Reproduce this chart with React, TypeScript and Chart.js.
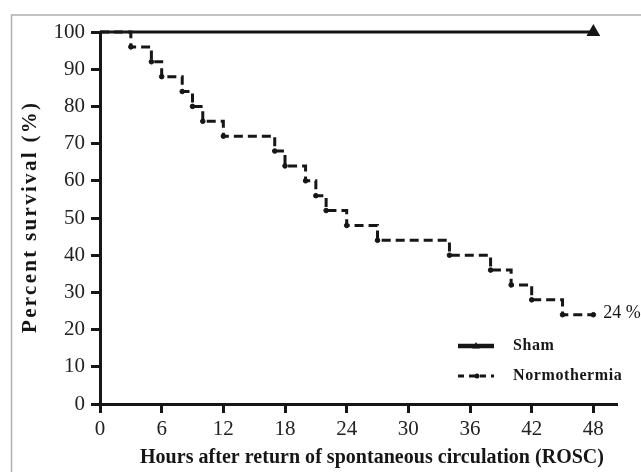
import { useEffect, useRef } from 'react';
import { Chart, registerables } from 'chart.js';

Chart.register(...registerables);

const FONT = "'Liberation Serif', 'Times New Roman', Times, serif";
const INK = '#161616';

// ---- data ----
const shamHours = [0, 48];
const shamSurvival = [100, 100];
const normHours = [0, 3, 5, 6, 8, 9, 10, 12, 17, 18, 20, 21, 22, 24, 27, 34, 38, 40, 42, 45, 48];
const normSurvival = [100, 96, 92, 88, 84, 80, 76, 72, 68, 64, 60, 56, 52, 48, 44, 40, 36, 32, 28, 24, 24];
const xTicks = [0, 6, 12, 18, 24, 30, 36, 42, 48];
const yTicks = [0, 10, 20, 30, 40, 50, 60, 70, 80, 90, 100];
const xTitle = 'Hours after return of spontaneous circulation (ROSC)';
const yTitle = 'Percent survival (%)';
const endLabel = '24 %';
const seriesNames = ['Sham', 'Normothermia'];

function spacedText(ctx: CanvasRenderingContext2D, text: string, x: number, y: number, targetWidth: number) {
  (ctx as any).letterSpacing = '0px';
  const w = ctx.measureText(text).width;
  const sp = (targetWidth - w) / Math.max(1, text.length - 1);
  (ctx as any).letterSpacing = sp + 'px';
  const w2 = ctx.measureText(text).width;
  ctx.textAlign = 'left';
  ctx.fillText(text, x - w2 / 2 + sp / 2, y);
  (ctx as any).letterSpacing = '0px';
}

function triangle(ctx: CanvasRenderingContext2D, x: number, y: number, r: number) {
  ctx.beginPath();
  ctx.moveTo(x, y - r);
  ctx.lineTo(x + r * 0.95, y + r * 0.65);
  ctx.lineTo(x - r * 0.95, y + r * 0.65);
  ctx.closePath();
  ctx.fill();
}

const decor = {
  id: 'decor',
  beforeDraw(chart: any) {
    const ctx = chart.ctx as CanvasRenderingContext2D;
    ctx.save();
    ctx.fillStyle = '#fff';
    ctx.fillRect(0, 0, chart.width, chart.height);
    ctx.strokeStyle = '#b0b0b0';
    ctx.lineWidth = 1.5;
    ctx.beginPath();
    ctx.moveTo(11.5, chart.height);
    ctx.lineTo(11.5, 15);
    ctx.lineTo(chart.width, 15);
    ctx.stroke();
    ctx.restore();
  },
  afterDraw(chart: any) {
    const ctx = chart.ctx as CanvasRenderingContext2D;
    const xs = chart.scales.x;
    const ys = chart.scales.y;
    ctx.save();
    ctx.fillStyle = INK;
    ctx.textBaseline = 'middle';
    // x title
    ctx.font = `bold 20px ${FONT}`;
    spacedText(ctx, xTitle, 372, 458, 464);
    // y title
    ctx.save();
    ctx.translate(31, 218);
    ctx.rotate(-Math.PI / 2);
    ctx.font = `bold 21px ${FONT}`;
    spacedText(ctx, yTitle, 0, 0, 230);
    ctx.restore();
    // end label
    ctx.font = `18px ${FONT}`;
    ctx.textAlign = 'left';
    ctx.fillText(endLabel, xs.getPixelForValue(normHours[normHours.length - 1]) + 10, ys.getPixelForValue(normSurvival[normSurvival.length - 1]) - 1);
    // legend
    const lx0 = 458, lx1 = 494, tx = 513;
    const ly = [346, 376];
    ctx.strokeStyle = INK;
    ctx.lineWidth = 4.5;
    ctx.beginPath();
    ctx.moveTo(lx0, ly[0]);
    ctx.lineTo(lx1, ly[0]);
    ctx.stroke();
    triangle(ctx, (lx0 + lx1) / 2, ly[0], 4);
    ctx.lineWidth = 3;
    ctx.setLineDash([6, 5]);
    ctx.beginPath();
    ctx.moveTo(lx0, ly[1]);
    ctx.lineTo(lx1, ly[1]);
    ctx.stroke();
    ctx.setLineDash([]);
    ctx.beginPath();
    ctx.arc((lx0 + lx1) / 2 + 1, ly[1], 2.5, 0, Math.PI * 2);
    ctx.fill();
    ctx.font = `bold 16px ${FONT}`;
    ctx.textAlign = 'left';
    (ctx as any).letterSpacing = '0.6px';
    ctx.fillText(seriesNames[0], tx, ly[0]);
    ctx.fillText(seriesNames[1], tx, ly[1]);
    (ctx as any).letterSpacing = '0px';
    ctx.restore();
  },
};

export default function App() {
  const ref = useRef<HTMLCanvasElement>(null);
  useEffect(() => {
    const chart = new Chart(ref.current!, {
      type: 'line',
      data: {
        datasets: [
          {
            label: seriesNames[0],
            data: shamHours.map((x, i) => ({ x, y: shamSurvival[i] })),
            borderColor: INK,
            backgroundColor: INK,
            borderWidth: 3,
            pointStyle: 'triangle',
            pointRadius: shamHours.map((_, i) => (i === shamHours.length - 1 ? 5 : 0)),
            pointBackgroundColor: INK,
            pointBorderColor: INK,
            clip: false,
          },
          {
            label: seriesNames[1],
            data: normHours.map((x, i) => ({ x, y: normSurvival[i] })),
            stepped: true,
            borderColor: INK,
            backgroundColor: INK,
            borderWidth: 3,
            borderDash: [9, 5],
            pointStyle: 'circle',
            pointRadius: normHours.map((_, i) => (i === 0 ? 0 : 2.3)),
            pointBackgroundColor: INK,
            pointBorderColor: INK,
            pointBorderWidth: 1,
            clip: false,
          },
        ],
      },
      options: {
        responsive: false,
        animation: false,
        events: [],
        layout: { padding: { top: 32, right: 24, left: 0, bottom: 0 } },
        plugins: { legend: { display: false }, tooltip: { enabled: false } },
        scales: {
          x: {
            type: 'linear',
            min: 0,
            max: 50.3,
            afterBuildTicks: (s: any) => {
              s.ticks = xTicks.map((v) => ({ value: v }));
            },
            afterFit: (s: any) => {
              s.height = 68;
            },
            grid: { drawOnChartArea: false, drawTicks: true, tickLength: 9, tickWidth: 3, tickColor: INK },
            border: { display: true, width: 3, color: INK },
            ticks: { font: { family: FONT, size: 21 }, color: '#222', padding: 4, maxRotation: 0, autoSkip: false },
          },
          y: {
            type: 'linear',
            min: 0,
            max: 100,
            afterBuildTicks: (s: any) => {
              s.ticks = yTicks.map((v) => ({ value: v }));
            },
            afterFit: (s: any) => {
              s.width = 100;
            },
            grid: { drawOnChartArea: false, drawTicks: true, tickLength: 9, tickWidth: 3, tickColor: INK },
            border: { display: true, width: 3, color: INK },
            ticks: { font: { family: FONT, size: 21 }, color: '#222', padding: 6, autoSkip: false },
          },
        },
      },
      plugins: [decor],
    });
    return () => chart.destroy();
  }, []);
  return (
    <div style={{ position: 'absolute', left: 0, top: 0, width: 641, height: 472, background: '#fff' }}>
      <canvas ref={ref} width={641} height={472} style={{ display: 'block' }} />
    </div>
  );
}
